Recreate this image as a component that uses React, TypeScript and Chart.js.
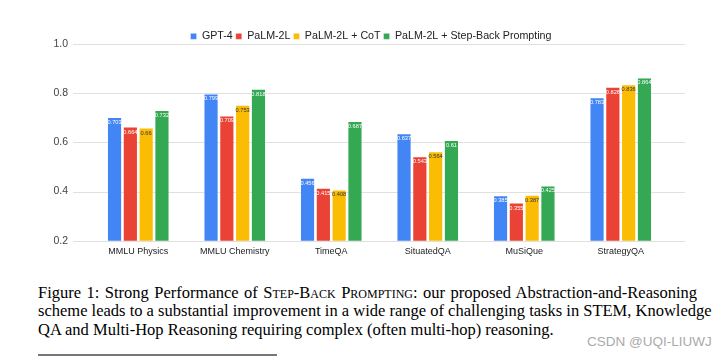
import React, { useEffect, useRef } from "react";
import { Chart, registerables } from "chart.js";

Chart.register(...registerables);

const categories = ["MMLU Physics", "MMLU Chemistry", "TimeQA", "SituatedQA", "MuSiQue", "StrategyQA"];
const seriesNames = ["GPT-4", "PaLM-2L", "PaLM-2L + CoT", "PaLM-2L + Step-Back Prompting"];
const gpt4 = [0.703, 0.799, 0.456, 0.637, 0.385, 0.783];
const palm2l = [0.664, 0.709, 0.415, 0.543, 0.355, 0.826];
const palm2lCot = [0.66, 0.753, 0.408, 0.564, 0.387, 0.836];
const palm2lStepBack = [0.732, 0.818, 0.687, 0.61, 0.425, 0.864];
const seriesColors = ["#4285F4", "#EA4335", "#FBBC04", "#34A853"];
const labelColors = ["#ffffff", "#ffffff", "#333333", "#ffffff"];
const yTickValues = [0.2, 0.4, 0.6, 0.8, 1.0];

const FONT = "'Liberation Sans', Arial, sans-serif";

const gridPlugin = {
  id: "extGrid",
  beforeDatasetsDraw(chart: any) {
    const { ctx, chartArea } = chart;
    const y = chart.scales.y;
    ctx.save();
    ctx.strokeStyle = "#e0e0e0";
    ctx.lineWidth = 1;
    yTickValues.forEach((v) => {
      const py = Math.round(y.getPixelForValue(v)) + 0.5;
      ctx.beginPath();
      ctx.moveTo(chartArea.left - 17, py);
      ctx.lineTo(chartArea.right + 16, py);
      ctx.stroke();
    });
    ctx.restore();
  },
};

const barLabelPlugin = {
  id: "barLabels",
  afterDatasetsDraw(chart: any) {
    const { ctx } = chart;
    ctx.save();
    ctx.font = `5.7px ${FONT}`;
    ctx.textAlign = "center";
    ctx.textBaseline = "top";
    chart.data.datasets.forEach((ds: any, i: number) => {
      const meta = chart.getDatasetMeta(i);
      ctx.fillStyle = labelColors[i];
      meta.data.forEach((bar: any, j: number) => {
        ctx.fillText(String(ds.data[j]), bar.x, bar.y + 2.5);
      });
    });
    ctx.restore();
  },
};

export default function App() {
  const ref = useRef<HTMLCanvasElement>(null);
  useEffect(() => {
    if (!ref.current) return;
    const allData = [gpt4, palm2l, palm2lCot, palm2lStepBack];
    const chart = new Chart(ref.current, {
      type: "bar",
      data: {
        labels: categories,
        datasets: seriesNames.map((name, i) => ({
          label: name,
          data: allData[i],
          backgroundColor: seriesColors[i],
          borderColor: "rgba(255,255,255,0.3)",
          borderWidth: 1,
          categoryPercentage: 0.655,
          barPercentage: 0.96,
          yAxisID: "y",
        })),
      },
      options: {
        animation: false,
        responsive: false,
        devicePixelRatio: 1,
        layout: { padding: { left: 45, right: 28, top: 24, bottom: 0 } },
        plugins: {
          legend: {
            position: "top",
            maxHeight: 16,
            labels: {
              boxWidth: 6,
              boxHeight: 6,
              padding: 3,
              color: "#222",
              font: { family: FONT, size: 10.7 },
            },
          },
          tooltip: { enabled: false },
        },
        scales: {
          x: {
            grid: { display: false, drawTicks: false },
            border: { display: false },
            ticks: { color: "#222", padding: 5, font: { family: FONT, size: 9 } },
            afterFit: (s: any) => { s.height = 24; },
          },
          y: {
            position: "left",
            min: 0.2,
            max: 1.0,
            grid: { display: false, drawTicks: false },
            border: { display: false },
            afterBuildTicks: (s: any) => { s.ticks = yTickValues.map((v) => ({ value: v })); },
            ticks: {
              autoSkip: false,
              color: "#444",
              padding: 22,
              font: { family: FONT, size: 10.5 },
              callback: (v: any) => Number(v).toFixed(1),
            },
            afterFit: (s: any) => { s.width = 45; },
          },
          yRight: {
            position: "right",
            display: true,
            grid: { display: false, drawTicks: false },
            border: { display: false },
            ticks: { display: false },
            afterFit: (s: any) => { s.width = 28; },
          },
        },
      },
      plugins: [gridPlugin, barLabelPlugin],
    });
    return () => chart.destroy();
  }, []);

  return (
    <div style={{ position: "absolute", left: 0, top: 0, width: 725, height: 357, background: "#fff", overflow: "hidden" }}>
      <canvas ref={ref} width={725} height={265} style={{ position: "absolute", left: 0, top: 4, width: 725, height: 265 }} />
      <div
        style={{
          position: "absolute",
          left: 38,
          top: 283.7,
          width: 659,
          fontFamily: "'Liberation Serif', 'Times New Roman', serif",
          fontSize: 16.5,
          lineHeight: "18.4px",
          color: "#000",
        }}
      >
        <div style={{ textAlign: "justify", textAlignLast: "justify", whiteSpace: "nowrap" as any }}>
          Figure 1: Strong Performance of <span style={{ fontVariant: "small-caps" }}>Step-Back Prompting</span>: our proposed Abstraction-and-Reasoning
        </div>
        <div style={{ textAlign: "justify", textAlignLast: "justify", whiteSpace: "nowrap" as any }}>
          scheme leads to a substantial improvement in a wide range of challenging tasks in STEM, Knowledge
        </div>
        <div style={{ whiteSpace: "nowrap" }}>QA and Multi-Hop Reasoning requiring complex (often multi-hop) reasoning.</div>
      </div>
      <div
        style={{
          position: "absolute",
          left: 587,
          top: 334,
          fontFamily: FONT,
          fontSize: 13.5,
          color: "#aaa",
          whiteSpace: "nowrap",
        }}
      >
        CSDN @UQI-LIUWJ
      </div>
      <div style={{ position: "absolute", left: 38, top: 354, width: 239, height: 2, background: "#777" }} />
    </div>
  );
}
